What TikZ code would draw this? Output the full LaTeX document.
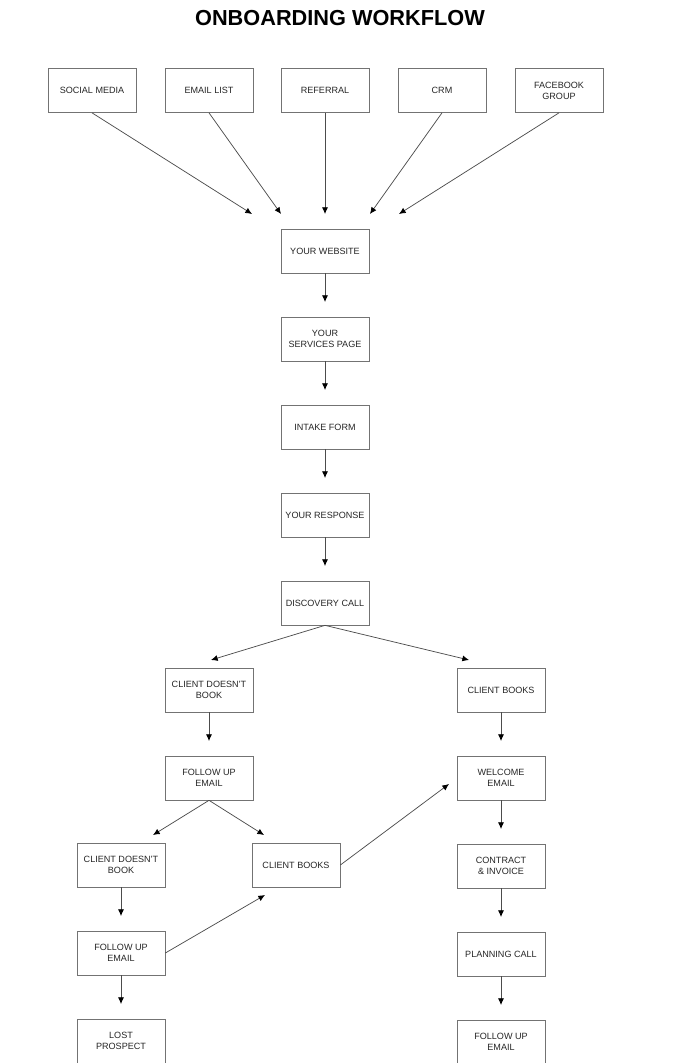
\documentclass[tikz,border=0pt]{standalone}
\usepackage{fontspec}
\setmainfont{Liberation Sans}
\usetikzlibrary{arrows.meta}
\usetikzlibrary{positioning}

\begin{document}
\begin{tikzpicture}[
x=0.75pt,y=-0.75pt,
MyBox/.style={draw=black!55,line width=0.5pt,minimum width=66pt,minimum height=33pt,
  align=center,inner sep=1pt,text=black!85,font=\fontsize{6.8}{8.2}\selectfont},
Flow/.style={draw=black!70,line width=0.55pt,-{Latex[length=5pt,width=4.5pt,black]}},
node distance=32.5pt
]
\useasboundingbox (0,0) rectangle (680,1063);

\node[font=\bfseries\fontsize{16.3}{19}\selectfont] (title) at (340,18) {ONBOARDING WORKFLOW};

% sources
\node[MyBox] (social) at (92,90.5) {SOCIAL MEDIA};
\node[MyBox] (email) at (209,90.5) {EMAIL LIST};
\node[MyBox] (referral) at (325,90.5) {REFERRAL};
\node[MyBox] (crm) at (442,90.5) {CRM};
\node[MyBox] (facebook) at (559,90.5) {FACEBOOK\\GROUP};

% main column
\node[MyBox] (website) at (325,251) {YOUR WEBSITE};
\node[MyBox,below=of website] (services) {YOUR\\SERVICES PAGE};
\node[MyBox,below=of services] (intake) {INTAKE FORM};
\node[MyBox,below=of intake] (response) {YOUR RESPONSE};
\node[MyBox,below=of response] (discovery) {DISCOVERY CALL};

% after the call
\node[MyBox] (nobook) at (209,690) {CLIENT DOESN'T\\BOOK};
\node[MyBox] (books) at (501,690) {CLIENT BOOKS};
\node[MyBox,below=of nobook] (followup) {FOLLOW UP\\EMAIL};
\node[MyBox,below=of books] (welcome) {WELCOME\\EMAIL};
\node[MyBox] (nobookb) at (121,865) {CLIENT DOESN'T\\BOOK};
\node[MyBox] (booksb) at (296,865) {CLIENT BOOKS};
\node[MyBox,below=of welcome] (contract) {CONTRACT\\\& INVOICE};
\node[MyBox,below=of nobookb] (followupb) {FOLLOW UP\\EMAIL};
\node[MyBox,below=of contract] (planning) {PLANNING CALL};
\node[MyBox,below=of followupb] (lost) {LOST\\PROSPECT};
\node[MyBox,below=of planning] (followupc) {FOLLOW UP\\EMAIL};

% free arrow ends
\coordinate (inA) at (252,214);
\coordinate (inB) at (281,214);
\coordinate (inC) at (325,214);
\coordinate (inD) at (370,214);
\coordinate (inE) at (399,214);
\coordinate (toNo) at (211,660);
\coordinate (toYes) at (469,660);
\coordinate (toNoB) at (153,835);
\coordinate (toYesB) at (264,835);
\coordinate (toWelcome) at (449,784);
\coordinate (toBooksB) at (265,895);

\foreach \src/\tip in {social/inA,email/inB,referral/inC,crm/inD,facebook/inE}
  \draw[Flow] (\src.south) -- (\tip);

\foreach \a/\b in {website/services,services/intake,intake/response,response/discovery,
  nobook/followup,books/welcome,welcome/contract,contract/planning,planning/followupc,
  nobookb/followupb,followupb/lost}
  \draw[Flow,shorten >=11pt] (\a.south) -- (\b.north);

\draw[Flow] (discovery.south) -- (toNo);
\draw[Flow] (discovery.south) -- (toYes);
\draw[Flow] (followup.south) -- (toNoB);
\draw[Flow] (followup.south) -- (toYesB);
\draw[Flow] (booksb.east) -- (toWelcome);
\draw[Flow] (followupb.east) -- (toBooksB);

\end{tikzpicture}
\end{document}
